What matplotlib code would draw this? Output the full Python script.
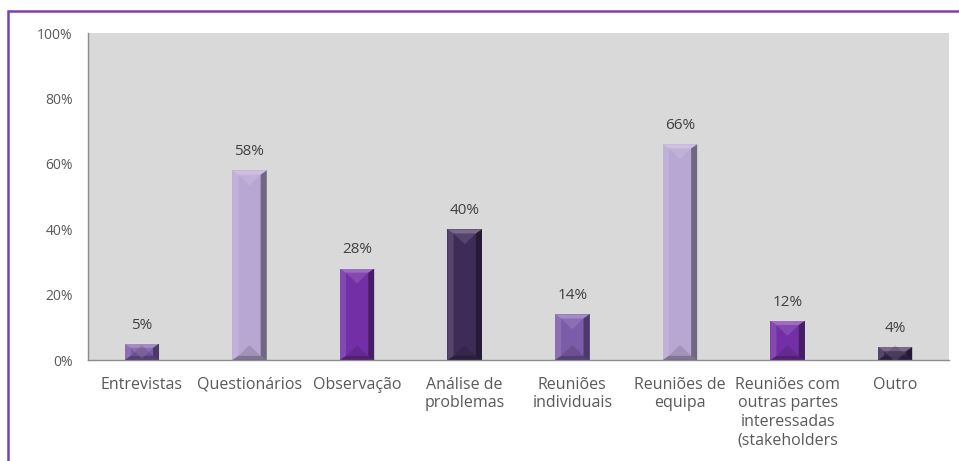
import matplotlib.pyplot as plt
from matplotlib.patches import Polygon, Rectangle
from matplotlib.ticker import PercentFormatter

plt.rcParams['font.family'] = ['Open Sans', 'DejaVu Sans']

categories = ['Entrevistas', 'Questionários', 'Observação', 'Análise de\nproblemas',
              'Reuniões\nindividuais', 'Reuniões de\nequipa',
              'Reuniões com\noutras partes\ninteressadas\n(stakeholders', 'Outro']
values = [5, 58, 28, 40, 14, 66, 12, 4]
bar_colors = ['#7b5ca8', '#b9a7d3', '#7330a6', '#3f2b58',
              '#7b5ca8', '#b9a7d3', '#7330a6', '#3f2b58']

fig = plt.figure(figsize=(9.59, 4.61), dpi=100)
ax = fig.add_axes([0.0918, 0.219, 0.8978, 0.709])
ax.set_facecolor('#d9d9d9')

x = range(len(categories))
bars = ax.bar(x, values, width=0.32, color=bar_colors, edgecolor='none', zorder=2)

# bevelled look: light top/left, dark right/bottom facets
fig.canvas.draw()
inv = ax.transData.inverted()
for rect in bars:
    x0, y0 = rect.get_x(), rect.get_y()
    w, h = rect.get_width(), rect.get_height()
    px0, py0 = ax.transData.transform((x0, y0))
    px1, py1 = ax.transData.transform((x0 + w, y0 + h))
    b = min(6, (py1 - py0) / 2, (px1 - px0) / 2)
    cx = (px0 + px1) / 2
    facets = [
        ([(px0, py1), (px1, py1), (px1 - b, py1 - b), (px0 + b, py1 - b)], 'white', 0.3),
        ([(px0, py0), (px0, py1), (px0 + b, py1 - b), (px0 + b, py0 + b)], 'white', 0.12),
        ([(px1, py0), (px1, py1), (px1 - b, py1 - b), (px1 - b, py0 + b)], 'black', 0.38),
        ([(px0, py0), (px1, py0), (px1 - b, py0 + b), (px0 + b, py0 + b)], 'black', 0.3),
        # V-shaped highlight under the top edge
        ([(px0 + b, py1 - b), (px1 - b, py1 - b), (cx, py1 - b - (px1 - px0) / 2.2)], 'white', 0.12),
        # pyramid shading above the bottom edge
        ([(px0 + b, py0 + b), (px1 - b, py0 + b), (cx, py0 + b + (px1 - px0) / 2.2)], 'black', 0.12),
    ]
    for pts, c, a in facets:
        ax.add_patch(Polygon(inv.transform(pts), closed=True, facecolor=c,
                             alpha=a, edgecolor='none', zorder=3))

for rect, v in zip(bars, values):
    ax.annotate(f'{v}%', (rect.get_x() + rect.get_width() / 2, v),
                xytext=(0, 8), textcoords='offset points', ha='center', va='bottom',
                fontsize=11, color='#404040')

ax.set_xlim(-0.5, len(categories) - 0.5)
ax.set_ylim(0, 100)
ax.set_yticks(range(0, 101, 20))
ax.yaxis.set_major_formatter(PercentFormatter(decimals=0))
ax.set_xticks(list(x))
ax.set_xticklabels(categories, va='top', linespacing=1.22)
ax.tick_params(axis='both', length=0, labelcolor='#595959')
ax.tick_params(axis='x', pad=12, labelsize=11.5)
ax.tick_params(axis='y', pad=11, labelsize=10)

for side in ['top', 'right']:
    ax.spines[side].set_visible(False)
for side in ['left', 'bottom']:
    ax.spines[side].set_color('#8c8c8c')
    ax.spines[side].set_linewidth(1)

# purple frame around the chart area
fig.patches.append(Rectangle((8 / 959, -0.1), 1.1, 1 - 11 / 461 + 0.1,
                             transform=fig.transFigure, fill=False,
                             edgecolor='#7a3fb5', linewidth=1.8))

fig.savefig('out.png', dpi=100)
